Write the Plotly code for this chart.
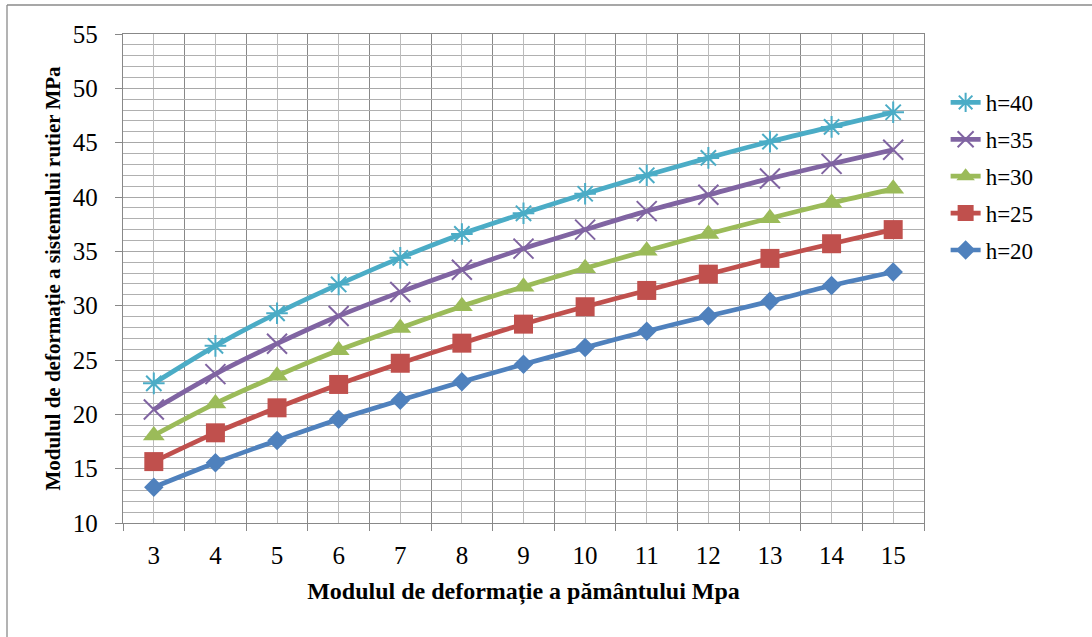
import plotly.graph_objects as go

x_vals = [3, 4, 5, 6, 7, 8, 9, 10, 11, 12, 13, 14, 15]
h20 = [13.3, 15.55, 17.6, 19.55, 21.3, 23.0, 24.6, 26.15, 27.65, 29.05, 30.4, 31.85, 33.1]
h25 = [15.65, 18.3, 20.6, 22.75, 24.7, 26.55, 28.3, 29.9, 31.4, 32.9, 34.35, 35.7, 37.0]
h30 = [18.05, 21.0, 23.55, 25.9, 27.95, 29.95, 31.75, 33.45, 35.05, 36.6, 38.05, 39.45, 40.75]
h35 = [20.45, 23.7, 26.5, 29.05, 31.25, 33.3, 35.25, 37.0, 38.7, 40.2, 41.7, 43.05, 44.35]
h40 = [22.85, 26.3, 29.3, 31.95, 34.4, 36.6, 38.5, 40.3, 42.0, 43.6, 45.1, 46.45, 47.8]

series_names = ["h=20", "h=25", "h=30", "h=35", "h=40"]
series_vals = [h20, h25, h30, h35, h40]
colors = ["#4F81BD", "#C0504D", "#9BBB59", "#8064A2", "#4BACC6"]
symbols = ["diamond", "square", "triangle-up", "x-thin-open", "asterisk-open"]
sizes = [15, 19, 19, 20, 18]

FONT = "Liberation Serif"

fig = go.Figure()
for i, (name, vals, col, sym, sz) in enumerate(zip(series_names, series_vals, colors, symbols, sizes)):
    fig.add_trace(go.Scatter(
        x=x_vals, y=vals, name=name, mode="lines+markers",
        legendgroup=name, legendrank=1000 - i,
        line=dict(color=col, width=4.7, shape="spline", smoothing=0.8),
        marker=dict(symbol=sym, size=sz, color=col,
                    line=dict(width=2 if "open" in sym else 0, color=col)),
    ))

fig.update_layout(
    width=1092, height=637,
    margin=dict(l=123, r=168, t=34, b=114),
    paper_bgcolor="white", plot_bgcolor="white",
    font=dict(family=FONT, color="black"),
    showlegend=True,
    legend=dict(
        x=1.027, xanchor="left", y=0.904, yanchor="top",
        traceorder="grouped", tracegroupgap=4,
        font=dict(family=FONT, size=23, color="black"),
        bgcolor="rgba(0,0,0,0)",
    ),
    xaxis=dict(
        range=[2.5, 15.5], tickmode="array", tickvals=x_vals,
        ticktext=[str(v) for v in x_vals],
        showgrid=True, gridcolor="#bcbcbc", gridwidth=1.3,
        ticks="", ticklabelstandoff=10,
        tickfont=dict(family=FONT, size=25, color="black"),
        minor=dict(tick0=2.5, dtick=1, showgrid=True, gridcolor="#888888",
                   gridwidth=1.3, ticks="outside", ticklen=7, tickcolor="#888888"),
        showline=True, linecolor="#888888", linewidth=1.3, mirror=True,
        zeroline=False,
        title=dict(text="<b>Modulul de deformație a pământului Mpa</b>",
                   font=dict(family=FONT, size=24, color="black"), standoff=14),
    ),
    yaxis=dict(
        range=[10, 55], tick0=10, dtick=5,
        showgrid=True, gridcolor="#a8a8a8", gridwidth=1.3,
        ticks="outside", ticklen=7, tickcolor="#888888",
        ticklabelstandoff=12,
        tickfont=dict(family=FONT, size=25, color="black"),
        minor=dict(dtick=1, showgrid=True, gridcolor="#b0b0b0", gridwidth=1.3),
        showline=True, linecolor="#888888", linewidth=1.3, mirror=True,
        zeroline=False,
        title=dict(text="<b>Modulul de deformație a sistemului rutier MPa</b>",
                   font=dict(family=FONT, size=21, color="black"), standoff=6),
    ),
    shapes=[
        dict(type="line", xref="paper", yref="paper",
             x0=(7 - 123) / 801, x1=(7 - 123) / 801, y0=(523 - 5) / 489, y1=(523 - 640) / 489,
             line=dict(color="#8a8a8a", width=1.3)),
        dict(type="line", xref="paper", yref="paper",
             x0=(7 - 123) / 801, x1=(1095 - 123) / 801, y0=(523 - 5) / 489, y1=(523 - 5) / 489,
             line=dict(color="#8a8a8a", width=1.3)),
    ],
)

fig.write_html("out.html")
